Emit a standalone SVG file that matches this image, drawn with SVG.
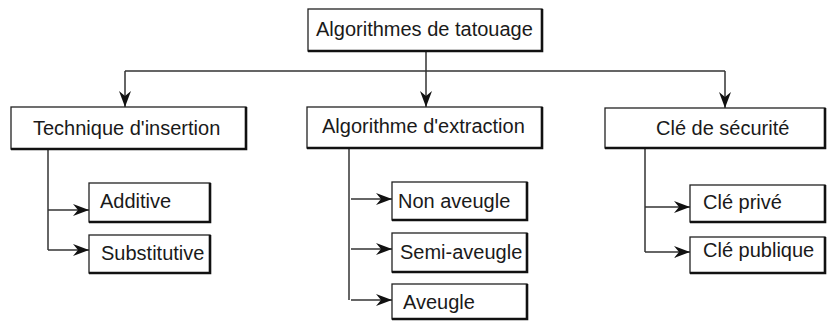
<svg xmlns="http://www.w3.org/2000/svg" width="828" height="323" viewBox="0 0 828 323">
  <defs>
    <marker id="dart" markerUnits="userSpaceOnUse" markerWidth="18" markerHeight="14" refX="16" refY="7" orient="auto">
      <path d="M0,1 L16,7 L0,13 L5,7 Z" fill="#111"/>
    </marker>
    <style>
      .box { fill: #fff; stroke: #222; stroke-width: 1.3; }
      .shadow { fill: none; stroke: #111; stroke-width: 2.6; }
      .lbl { font-family: "Liberation Sans", Arial, sans-serif; font-size: 20px; fill: #1a1a1a; }
      .wire { fill: none; stroke: #333; stroke-width: 1.5; }
      .arrow { fill: none; stroke: #333; stroke-width: 1.5; marker-end: url(#dart); }
    </style>
  </defs>
  <rect width="828" height="323" fill="#fff"/>

  <g id="connectors">
    <path class="wire" d="M426,51 V71 M125,71 H725"/>
    <path class="arrow" d="M125,71 V107"/>
    <path class="arrow" d="M426,71 V107"/>
    <path class="arrow" d="M725,71 V108"/>
    <path class="wire" d="M48,149 V250"/>
    <path class="arrow" d="M48,210 H89"/>
    <path class="arrow" d="M48,250 H89"/>
    <path class="wire" d="M349,148 V300"/>
    <path class="arrow" d="M351,199 H392"/>
    <path class="arrow" d="M351,249 H392"/>
    <path class="arrow" d="M351,300 H392"/>
    <path class="wire" d="M645,148 V252"/>
    <path class="arrow" d="M645,207 H690"/>
    <path class="arrow" d="M645,252 H690"/>
  </g>

  <g id="root">
    <rect class="box" x="308" y="9" width="234" height="42"/>
    <path class="shadow" d="M542,9 V51 H308"/>
    <text class="lbl" x="316" y="36">Algorithmes de tatouage</text>
  </g>

  <g id="insertion">
    <rect class="box" x="11" y="107" width="235" height="42"/>
    <path class="shadow" d="M246,107 V149 H11"/>
    <text class="lbl" x="33" y="135">Technique d'insertion</text>
  </g>
  <g id="additive">
    <rect class="box" x="89" y="183" width="121" height="39"/>
    <path class="shadow" d="M210,183 V222 H89"/>
    <text class="lbl" x="100" y="208">Additive</text>
  </g>
  <g id="substitutive">
    <rect class="box" x="89" y="235" width="121" height="38"/>
    <path class="shadow" d="M210,235 V273 H89"/>
    <text class="lbl" x="101" y="260">Substitutive</text>
  </g>

  <g id="extraction">
    <rect class="box" x="307" y="107" width="235" height="41"/>
    <path class="shadow" d="M542,107 V148 H307"/>
    <text class="lbl" x="322" y="133">Algorithme d'extraction</text>
  </g>
  <g id="non-aveugle">
    <rect class="box" x="392" y="182" width="135" height="38"/>
    <path class="shadow" d="M527,182 V220 H392"/>
    <text class="lbl" x="398" y="208">Non aveugle</text>
  </g>
  <g id="semi-aveugle">
    <rect class="box" x="392" y="233" width="135" height="39"/>
    <path class="shadow" d="M527,233 V272 H392"/>
    <text class="lbl" x="400" y="259">Semi-aveugle</text>
  </g>
  <g id="aveugle">
    <rect class="box" x="392" y="284" width="135" height="35"/>
    <path class="shadow" d="M527,284 V319 H392"/>
    <text class="lbl" x="403" y="309">Aveugle</text>
  </g>

  <g id="securite">
    <rect class="box" x="605" y="108" width="220" height="40"/>
    <path class="shadow" d="M825,108 V148 H605"/>
    <text class="lbl" x="656" y="135">Clé de sécurité</text>
  </g>
  <g id="cle-prive">
    <rect class="box" x="690" y="185" width="135" height="37"/>
    <path class="shadow" d="M825,185 V222 H690"/>
    <text class="lbl" x="703" y="209">Clé privé</text>
  </g>
  <g id="cle-publique">
    <rect class="box" x="690" y="237" width="135" height="36"/>
    <path class="shadow" d="M825,237 V273 H690"/>
    <text class="lbl" x="703" y="257">Clé publique</text>
  </g>
</svg>
